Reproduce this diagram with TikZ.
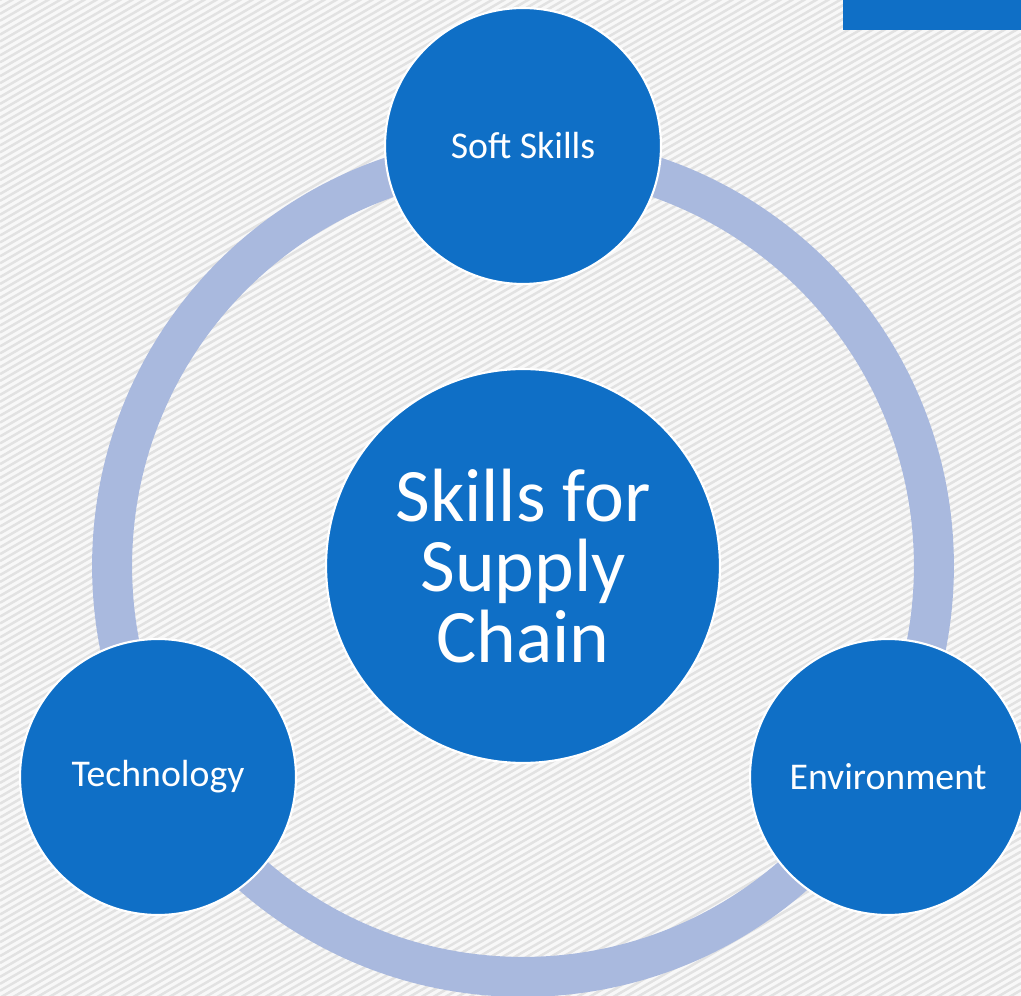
\documentclass[tikz,border=0pt]{standalone}
\usepackage{fontspec}
\setmainfont{Carlito}
\usepackage{xcolor}
\usepackage{tikz}
\definecolor{chainblue}{HTML}{0F6FC6}
\definecolor{ringblue}{HTML}{A9B9DE}
\definecolor{paper}{HTML}{F8F8F8}
\definecolor{hatch}{HTML}{E2E2E2}
\tikzset{
  bubble/.style={circle,fill=chainblue,draw=white,line width=1.2pt,text=white,
    minimum size=5.52cm,inner sep=0pt,font=\fontsize{21.5}{24}\selectfont},
  hubbubble/.style={bubble,minimum size=7.88cm,align=center,
    font=\fontsize{43}{40}\selectfont},
  ring/.style={draw=ringblue,line width=0.8cm},
  stripe/.style={draw=hatch,line width=0.05cm}
}

\begin{document}
\begin{tikzpicture}[x=0.02cm,y=-0.02cm]
    \useasboundingbox (0,0) rectangle (1021,996);
    \fill[paper] (0,0) rectangle (1021,996);
    \begin{scope}
    \clip (0,0) rectangle (1021,996);
    \foreach \c in {0,6,...,1380}
        \draw[stripe] (0,{\c/0.866}) -- (1021,{(\c-510.5)/0.866});
    \end{scope}
    \fill[chainblue] (843,0) rectangle (1021,30);
    \node[hubbubble] (hub) at (523,566) {Skills for\\Supply\\Chain};
    \draw[ring] (hub.center) circle (8.22cm);
    \node[bubble] (soft) at (523,146) {Soft Skills};
    \node[bubble] (tech) at (158,777) {Technology};
    \node[bubble] (env) at (888,777) {Environment};
\end{tikzpicture}
\end{document}
